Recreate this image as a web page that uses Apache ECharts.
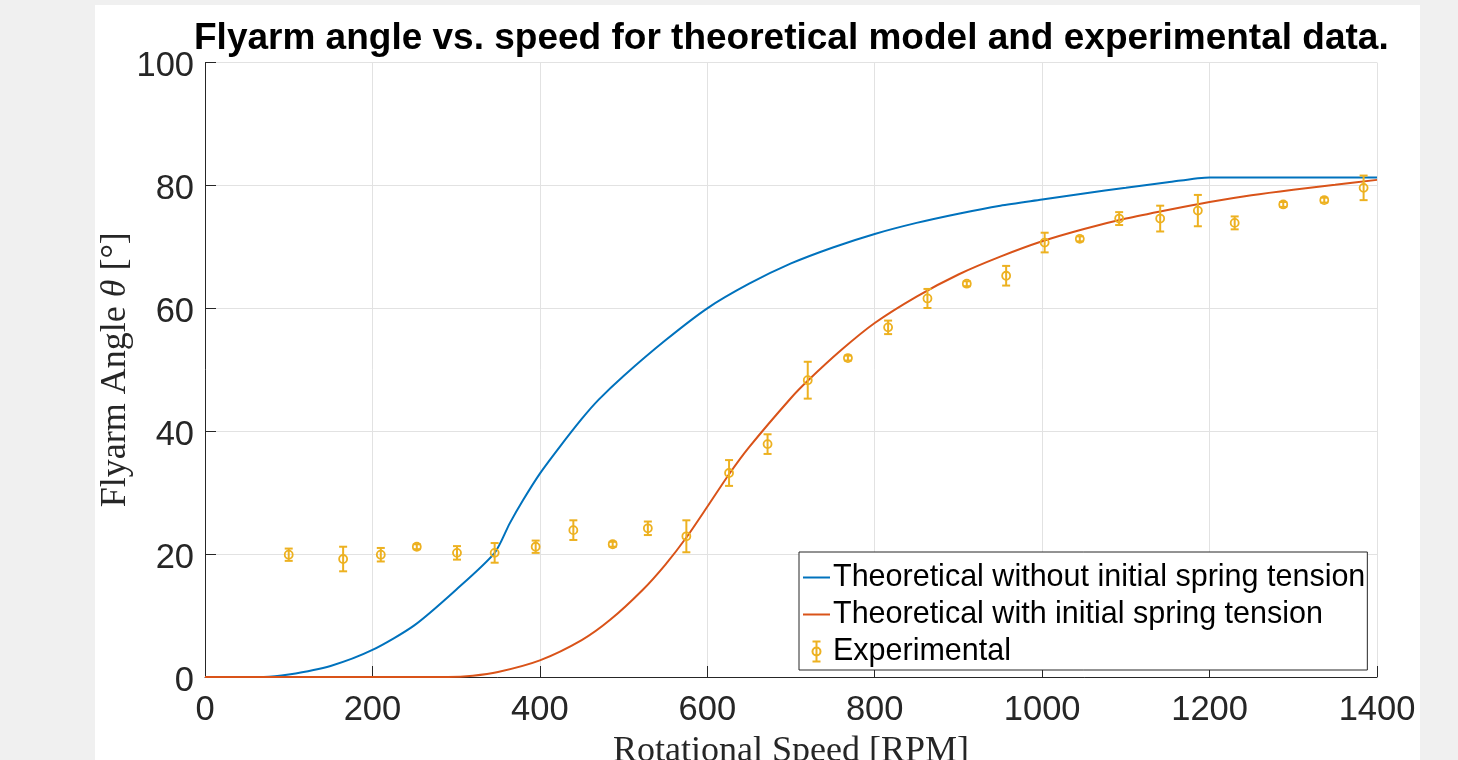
<!DOCTYPE html>
<html>
<head>
<meta charset="utf-8">
<script src="https://cdn.jsdelivr.net/npm/echarts@6/dist/echarts.min.js"></script>
<style>
  html, body { margin: 0; padding: 0; background: #f0f0f0; overflow: hidden; }
  #chart { width: 1458px; height: 760px; }
</style>
</head>
<body>
<div id="chart"></div>
<script>
// ---- Data ----
const titleText = 'Flyarm angle vs. speed for theoretical model and experimental data.';
const xTicks = [0, 200, 400, 600, 800, 1000, 1200, 1400];
const yTicks = [0, 20, 40, 60, 80, 100];

// Theoretical without initial spring tension (RPM, degrees)
const noTensionRpm = [0, 70, 100, 150, 200, 250, 300, 346, 364, 380, 400, 424, 450, 470, 500, 550, 600, 650, 700, 750, 800, 850, 900, 950, 1000, 1050, 1100, 1150, 1200, 1300, 1400];
const noTensionDeg = [0, 0, 0.4, 1.8, 4.4, 8.4, 14.2, 20.2, 25.0, 28.8, 33.1, 37.5, 42.0, 45.1, 49.0, 54.8, 60.0, 64.0, 67.3, 69.9, 72.1, 73.9, 75.4, 76.7, 77.7, 78.7, 79.6, 80.5, 81.3, 81.3, 81.3];

// Theoretical with initial spring tension (RPM, degrees)
const tensionRpm = [0, 290, 320, 350, 400, 450, 484, 523, 550, 575, 600, 626, 650, 700, 720, 760, 800, 850, 900, 950, 1000, 1050, 1100, 1150, 1200, 1250, 1300, 1350, 1400];
const tensionDeg = [0, 0, 0.2, 0.8, 2.7, 6.0, 9.3, 14.2, 18.3, 22.7, 27.7, 33.0, 37.4, 45.4, 48.2, 53.2, 57.6, 61.9, 65.5, 68.4, 70.9, 72.9, 74.6, 76.0, 77.3, 78.4, 79.3, 80.1, 80.9];

// Experimental points (RPM, degrees, half error)
const expRpm = [100, 165, 210, 253, 301, 346, 395, 440, 487, 529, 575, 626, 672, 720, 768, 816, 863, 910, 957, 1003, 1045, 1092, 1141, 1186, 1230, 1288, 1337, 1384];
const expDeg = [19.9, 19.2, 19.9, 21.2, 20.2, 20.2, 21.2, 23.9, 21.6, 24.2, 22.9, 33.2, 37.9, 48.3, 51.9, 56.9, 61.6, 64.0, 65.3, 70.7, 71.3, 74.6, 74.6, 75.9, 73.9, 76.9, 77.6, 79.6];
const expErr = [1.0, 2.0, 1.1, 0.4, 1.1, 1.6, 1.0, 1.6, 0.4, 1.1, 2.6, 2.1, 1.6, 3.0, 0.4, 1.1, 1.55, 0.4, 1.6, 1.6, 0.4, 1.05, 2.1, 2.55, 1.05, 0.4, 0.4, 2.0];

const seriesNames = ['Theoretical without initial spring tension', 'Theoretical with initial spring tension', 'Experimental'];
const BLUE = '#0072BD', RED = '#D95319', YELLOW = '#EDB120', AX = '#262626';

const zip = (a, b) => a.map((v, i) => [v, b[i]]);
const expData = expRpm.map((x, i) => [x, expDeg[i], expDeg[i] - expErr[i], expDeg[i] + expErr[i]]);

const chart = echarts.init(document.getElementById('chart'), null, { renderer: 'canvas' });

const lineIcon = 'path://M0,9 L27,9 L27,11 L0,11 Z';

const option = {
  backgroundColor: '#f0f0f0',
  animation: false,
  graphic: {
    elements: [{
      type: 'rect', left: 95, top: 5, z: -100, silent: true,
      shape: { width: 1325, height: 760 },
      style: { fill: '#ffffff' }
    }]
  },
  title: {
    text: titleText,
    left: 194, top: 20,
    padding: 0,
    textStyle: { fontFamily: 'Liberation Sans', fontWeight: 'bold', fontSize: 37, color: '#000' }
  },
  grid: { left: 205, right: 81, top: 62.5, bottom: 83, containLabel: false, outerBoundsMode: 'none' },
  legend: {
    orient: 'vertical',
    left: 799, top: 552,
    padding: [10, 2, 3, 4],
    itemGap: 6,
    itemWidth: 27, itemHeight: 20,
    backgroundColor: '#ffffff',
    borderColor: AX, borderWidth: 1,
    textStyle: { fontFamily: 'Liberation Sans', fontSize: 30.5, color: '#000', padding: [0, 0, 0, -2] },
    data: [
      { name: seriesNames[0], icon: lineIcon },
      { name: seriesNames[1], icon: lineIcon },
      {
        name: seriesNames[2],
        icon: 'path://M0,0 L8,0 M4,0 L4,20 M0,20 L8,20 M4,6 A4,4 0 1 1 4,14 A4,4 0 1 1 4,6',
        itemStyle: { color: 'rgba(0,0,0,0)', borderColor: YELLOW, borderWidth: 2 }
      }
    ]
  },
  xAxis: {
    type: 'value', min: 0, max: 1400, interval: 200,
    name: 'Rotational Speed [RPM]',
    nameLocation: 'middle', nameGap: 57, nameMoveOverlap: false,
    nameTextStyle: { fontFamily: 'Liberation Serif', fontSize: 36, color: AX },
    axisLine: { show: true, onZero: false, lineStyle: { color: AX, width: 1 } },
    axisTick: { show: true, inside: true, length: 11, lineStyle: { color: AX, width: 1 } },
    axisLabel: {
      margin: 15.5, color: AX, fontFamily: 'Liberation Sans', fontSize: 34.5,
      showMinLabel: true, showMaxLabel: true,
      formatter: v => xTicks.includes(v) ? String(v) : ''
    },
    splitLine: { show: true, lineStyle: { color: '#e2e2e2', width: 1 } }
  },
  yAxis: {
    type: 'value', min: 0, max: 100, interval: 20,
    name: 'Flyarm Angle {i|θ} [°]',
    nameLocation: 'middle', nameGap: 71, nameRotate: 90, nameMoveOverlap: false,
    nameTextStyle: {
      fontFamily: 'Liberation Serif', fontSize: 36, color: AX,
      rich: { i: { fontFamily: 'Liberation Serif', fontStyle: 'italic', fontSize: 36, color: AX } }
    },
    axisLine: { show: true, onZero: false, lineStyle: { color: AX, width: 1 } },
    axisTick: { show: true, inside: true, length: 11, lineStyle: { color: AX, width: 1 } },
    axisLabel: {
      margin: 11, color: AX, fontFamily: 'Liberation Sans', fontSize: 34.5,
      verticalAlign: 'top', lineHeight: 8,
      showMinLabel: true, showMaxLabel: true,
      formatter: v => yTicks.includes(v) ? String(v) : ''
    },
    splitLine: { show: true, lineStyle: { color: '#e2e2e2', width: 1 } }
  },
  series: [
    {
      name: seriesNames[0], type: 'line', data: zip(noTensionRpm, noTensionDeg),
      showSymbol: false, symbol: 'none', smooth: 0.25,
      lineStyle: { color: BLUE, width: 2 }, itemStyle: { color: BLUE }, z: 3
    },
    {
      name: seriesNames[1], type: 'line', data: zip(tensionRpm, tensionDeg),
      showSymbol: false, symbol: 'none', smooth: 0.25,
      lineStyle: { color: RED, width: 2 }, itemStyle: { color: RED }, z: 4
    },
    {
      name: seriesNames[2], type: 'custom', data: expData, z: 5,
      itemStyle: { color: YELLOW },
      encode: { x: 0, y: [1, 2, 3] },
      renderItem: function (params, api) {
        const x = api.value(0), y = api.value(1), lo = api.value(2), hi = api.value(3);
        const p = api.coord([x, y]), pl = api.coord([x, lo]), ph = api.coord([x, hi]);
        const cw = 4;
        const st = { stroke: YELLOW, lineWidth: 2, fill: null };
        return {
          type: 'group',
          children: [
            { type: 'line', shape: { x1: p[0], y1: ph[1], x2: p[0], y2: pl[1] }, style: st },
            { type: 'line', shape: { x1: p[0] - cw, y1: ph[1], x2: p[0] + cw, y2: ph[1] }, style: st },
            { type: 'line', shape: { x1: p[0] - cw, y1: pl[1], x2: p[0] + cw, y2: pl[1] }, style: st },
            { type: 'circle', shape: { cx: p[0], cy: p[1], r: 4 }, style: { stroke: YELLOW, lineWidth: 1.8, fill: null } }
          ]
        };
      }
    }
  ]
};
chart.setOption(option);
</script>
</body>
</html>
